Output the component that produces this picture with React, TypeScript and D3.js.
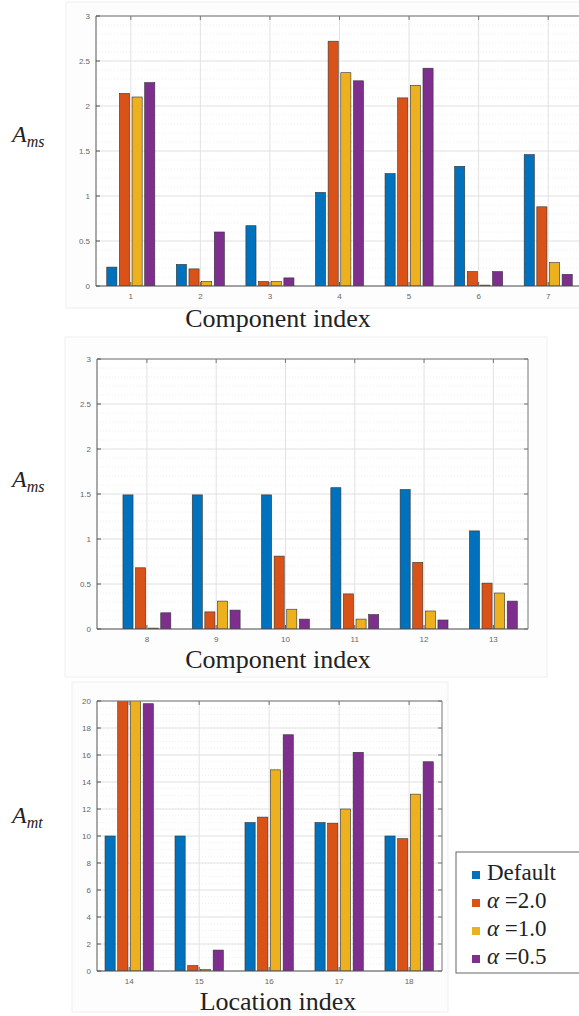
import React from 'react';
import * as d3 from 'd3';

// legend / series
const SERIES = ['Default', '=2.0', '=1.0', '=0.5'];
const COLORS = ['#0072BD', '#D95319', '#EDB120', '#7E2F8E'];

// top panel: components 1-7
const TOP_CATS = [1, 2, 3, 4, 5, 6, 7];
const TOP_DEFAULT = [0.21, 0.24, 0.67, 1.04, 1.25, 1.33, 1.46];
const TOP_A20 = [2.14, 0.19, 0.05, 2.72, 2.09, 0.16, 0.88];
const TOP_A10 = [2.1, 0.05, 0.05, 2.37, 2.23, 0.01, 0.26];
const TOP_A05 = [2.26, 0.6, 0.09, 2.28, 2.42, 0.16, 0.13];

// middle panel: components 8-13
const MID_CATS = [8, 9, 10, 11, 12, 13];
const MID_DEFAULT = [1.49, 1.49, 1.49, 1.57, 1.55, 1.09];
const MID_A20 = [0.68, 0.19, 0.81, 0.39, 0.74, 0.51];
const MID_A10 = [0.01, 0.31, 0.22, 0.11, 0.2, 0.4];
const MID_A05 = [0.18, 0.21, 0.11, 0.16, 0.1, 0.31];

// bottom panel: locations 14-18
const BOT_CATS = [14, 15, 16, 17, 18];
const BOT_DEFAULT = [10, 10, 11, 11, 10];
const BOT_A20 = [20.5, 0.4, 11.4, 10.95, 9.8];
const BOT_A10 = [20.5, 0.1, 14.9, 12.0, 13.1];
const BOT_A05 = [19.8, 1.55, 17.5, 16.2, 15.5];

const SERIF = '"Liberation Serif", "Times New Roman", serif';
const SANS = '"Liberation Sans", Arial, sans-serif';

type PanelProps = {
  id: string;
  cats: number[];
  data: number[][];
  xDomain: [number, number];
  yMax: number;
  yStep: number;
  minorStep: number;
  left: number;
  right: number;
  top: number;
  bottom: number;
  ySub: string;
  yLabelY: number;
  xLabel: string;
  xLabelY: number;
  frame: [number, number, number, number];
};

const Panel = (p: PanelProps) => {
  const x = d3.scaleLinear().domain(p.xDomain).range([p.left, p.right]);
  const y = d3.scaleLinear().domain([0, p.yMax]).range([p.bottom, p.top]);
  const yTicks = d3.range(0, p.yMax + 1e-9, p.yStep);
  const minor = d3.range(0, p.yMax + 1e-9, p.minorStep);
  const n = p.data.length;
  // matlab style grouped bars
  const step = Math.min(0.8, n / (n + 1.5)) / n;
  const bw = step * 0.8;
  const w = x(1) - x(0);
  const fmt = (v: number) => String(+v.toFixed(2));
  const [fx, fy, fw, fh] = p.frame;

  return (
    <g>
      <rect x={fx} y={fy} width={fw} height={fh} fill="#fdfdfd" stroke="#efefef" />
      <rect x={p.left} y={p.top} width={p.right - p.left} height={p.bottom - p.top} fill="#fff" />
      <clipPath id={p.id}>
        <rect x={p.left} y={p.top} width={p.right - p.left} height={p.bottom - p.top} />
      </clipPath>
      {minor.map((v) => (
        <line key={'m' + v} x1={p.left} x2={p.right} y1={y(v)} y2={y(v)} stroke="#eeeeee" strokeDasharray="1,2" />
      ))}
      {yTicks.map((v) => (
        <line key={'g' + v} x1={p.left} x2={p.right} y1={y(v)} y2={y(v)} stroke="#e2e2e2" />
      ))}
      {p.cats.map((c) => (
        <line key={'v' + c} x1={x(c)} x2={x(c)} y1={p.top} y2={p.bottom} stroke="#e2e2e2" />
      ))}
      <g clipPath={`url(#${p.id})`}>
        {p.cats.map((c, i) =>
          p.data.map((s, k) => {
            const cx = x(c + (k - (n - 1) / 2) * step);
            return (
              <rect
                key={c + '-' + k}
                x={cx - (bw * w) / 2}
                y={y(s[i])}
                width={bw * w}
                height={y(0) - y(s[i])}
                fill={COLORS[k]}
                stroke="#333"
                strokeWidth={0.6}
              />
            );
          })
        )}
      </g>
      {/* box */}
      <line x1={p.left} x2={p.right} y1={p.top} y2={p.top} stroke="#777" />
      <line x1={p.left} x2={p.right} y1={p.bottom} y2={p.bottom} stroke="#555" />
      <line x1={p.left} x2={p.left} y1={p.top} y2={p.bottom} stroke="#555" />
      <line x1={p.right} x2={p.right} y1={p.top} y2={p.bottom} stroke="#777" />
      {yTicks.map((v) => (
        <g key={'t' + v}>
          <line x1={p.left} x2={p.left + 4} y1={y(v)} y2={y(v)} stroke="#555" />
          <line x1={p.right} x2={p.right - 4} y1={y(v)} y2={y(v)} stroke="#777" />
          <text x={p.left - 6} y={y(v) + 3} fontSize={8} fill="#666" textAnchor="end" fontFamily={SANS}>
            {fmt(v)}
          </text>
        </g>
      ))}
      {p.cats.map((c) => (
        <g key={'xt' + c}>
          <line x1={x(c)} x2={x(c)} y1={p.bottom} y2={p.bottom - 4} stroke="#555" />
          <line x1={x(c)} x2={x(c)} y1={p.top} y2={p.top + 4} stroke="#777" />
          <text x={x(c)} y={p.bottom + 13} fontSize={8} fill="#666" textAnchor="middle" fontFamily={SANS}>
            {c}
          </text>
        </g>
      ))}
      <text x={12} y={p.yLabelY} fontFamily={SERIF} fontStyle="italic" fontSize={24} fill="#222">
        A<tspan fontSize={16} dy={5}>{p.ySub}</tspan>
      </text>
      <text x={278} y={p.xLabelY} fontFamily={SERIF} fontSize={26} fill="#222" textAnchor="middle">
        {p.xLabel}
      </text>
    </g>
  );
};

const App = () => {
  const legendY = [880, 908, 936, 964];
  return (
    <svg width={579} height={1016} style={{ position: 'absolute', left: 0, top: 0, background: '#fff' }}>
      <Panel
        id="c1"
        cats={TOP_CATS}
        data={[TOP_DEFAULT, TOP_A20, TOP_A10, TOP_A05]}
        xDomain={[0.5, 7.5]}
        yMax={3}
        yStep={0.5}
        minorStep={0.1}
        left={96}
        right={583}
        top={16}
        bottom={286}
        ySub="ms"
        yLabelY={142}
        xLabel="Component index"
        xLabelY={327}
        frame={[66, 2, 520, 306]}
      />
      <Panel
        id="c2"
        cats={MID_CATS}
        data={[MID_DEFAULT, MID_A20, MID_A10, MID_A05]}
        xDomain={[7.28, 13.5]}
        yMax={3}
        yStep={0.5}
        minorStep={0.1}
        left={97}
        right={528}
        top={359}
        bottom={629}
        ySub="ms"
        yLabelY={487}
        xLabel="Component index"
        xLabelY={668}
        frame={[65, 337, 482, 340]}
      />
      <Panel
        id="c3"
        cats={BOT_CATS}
        data={[BOT_DEFAULT, BOT_A20, BOT_A10, BOT_A05]}
        xDomain={[13.54, 18.47]}
        yMax={20}
        yStep={2}
        minorStep={0.5}
        left={97}
        right={442}
        top={701}
        bottom={971}
        ySub="mt"
        yLabelY={823}
        xLabel="Location index"
        xLabelY={1010}
        frame={[72, 682, 376, 330]}
      />
      <g>
        <rect x={456} y={852} width={130} height={121} fill="#fff" stroke="#666" />
        {SERIES.map((s, i) => (
          <g key={s}>
            <rect x={472} y={legendY[i] - 9} width={8} height={8} fill={COLORS[i]} />
            <text x={487} y={legendY[i]} fontFamily={SERIF} fontSize={23} fill="#222">
              {i === 0 ? (
                s
              ) : (
                <>
                  <tspan fontStyle="italic">α</tspan> {s}
                </>
              )}
            </text>
          </g>
        ))}
      </g>
    </svg>
  );
};

export default App;
